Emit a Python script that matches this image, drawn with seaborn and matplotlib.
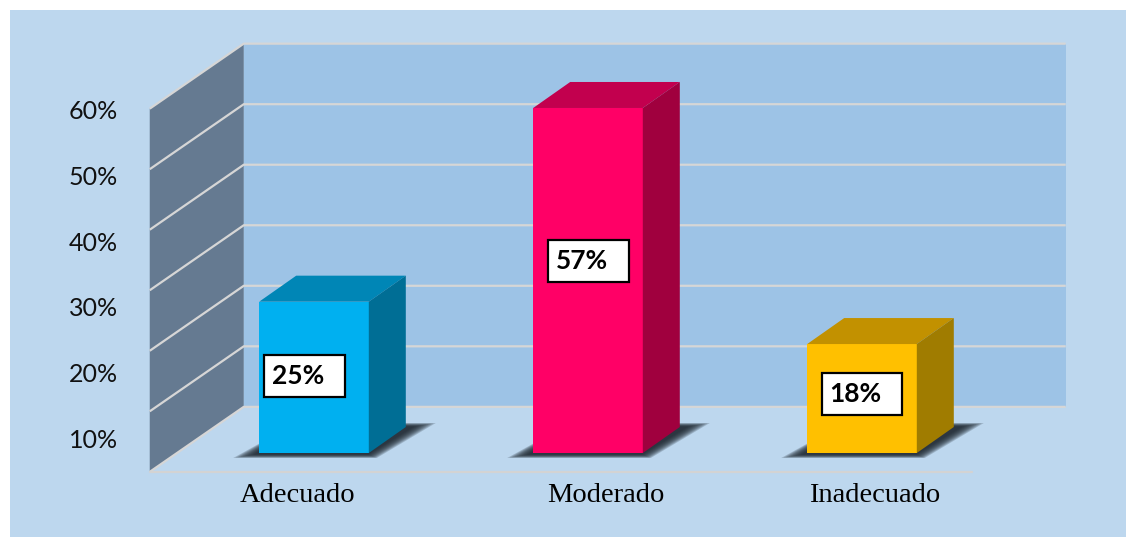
import pandas as pd
import seaborn as sns
import matplotlib.pyplot as plt
from matplotlib.patches import Polygon, Rectangle

# datos
categorias = ["Adecuado", "Moderado", "Inadecuado"]
porcentajes = [25, 57, 18]
etiquetas = ["25%", "57%", "18%"]
ticks_y = [10, 20, 30, 40, 50, 60]
ticks_txt = ["10%", "20%", "30%", "40%", "50%", "60%"]

# colores (frente, techo, lado)
frente = ["#00B0F0", "#FF0066", "#FFC000"]
techo = ["#0086B6", "#C2004E", "#C29100"]
lado = ["#006E95", "#A0003E", "#A07C00"]

# escala pixel -> datos
W, H = 1126, 537
PX_X = 274.0   # px por categoria
PX_Y = 6.053   # px por %
X0, Y0 = 314, 453  # pixel del punto (0, 0)


def dx(px):
    return px / PX_X


def dy(px):
    return px / PX_Y


# perspectiva del "3D"
DX, DY = dx(94), dy(65)
ZB = 0.29   # profundidad de la cara frontal de las barras


def P(x, y, z):
    return (x + (z - ZB) * DX, y + (z - ZB) * DY)


sns.set_style("white")
fig = plt.figure(figsize=(W / 100, H / 100), dpi=100)
fig.patch.set_facecolor("white")
fig.add_artist(Rectangle((10 / W, 0), 1 - 10 / W, 1 - 10 / H,
                         transform=fig.transFigure, facecolor="#BDD7EE",
                         edgecolor="none", zorder=-1))
ax = fig.add_axes([0, 0, 1, 1])

df = pd.DataFrame({"categoria": categorias, "porcentaje": porcentajes})
sns.barplot(data=df, x="categoria", y="porcentaje", hue="categoria",
            palette=frente, saturation=1, width=0.4, legend=False,
            linewidth=0, zorder=5, ax=ax)
barras = list(ax.patches)

# paredes
ax.add_patch(Polygon([P(-0.5, 0, 1), P(2.5, 0, 1), P(2.5, 60, 1), P(-0.5, 60, 1)],
                     closed=True, facecolor="#9DC3E6", edgecolor="none", zorder=1))
ax.add_patch(Polygon([P(-0.5, 0, 0), P(-0.5, 0, 1), P(-0.5, 60, 1), P(-0.5, 60, 0)],
                     closed=True, facecolor="#657A91", edgecolor="none", zorder=1))
for g in range(0, 61, 10):
    pts = [P(-0.5, g, 0), P(-0.5, g, 1), P(2.5, g, 1)]
    ax.plot([p[0] for p in pts], [p[1] for p in pts], color="#D6D6D6", lw=1.6,
            solid_capstyle="butt", zorder=2)
a, b = P(-0.5, 0, 0), P(2.5, 0, 0)
ax.plot([a[0], b[0]], [a[1], b[1]], color="#D3D3D3", lw=1.6, zorder=2)

# barras 3D: techo, lado y sombra
bdx, bdy = dx(37), dy(26)
for bar, ct, cl in zip(barras, techo, lado):
    x0, w, h = bar.get_x(), bar.get_width(), bar.get_height()
    x1 = x0 + w
    ax.add_patch(Polygon([(x0, h), (x1, h), (x1 + bdx, h + bdy), (x0 + bdx, h + bdy)],
                         closed=True, facecolor=ct, edgecolor="none", zorder=5))
    ax.add_patch(Polygon([(x1, 0), (x1, h), (x1 + bdx, h + bdy), (x1 + bdx, bdy)],
                         closed=True, facecolor=cl, edgecolor="none", zorder=5))
    for k in range(10):
        m = 2.4 * k
        ax.add_patch(Polygon([(x0 - dx(26 - m), -dy(5 - k * 0.4)),
                              (x1 + dx(8 - m * 0.4), -dy(5 - k * 0.4)),
                              (x1 + bdx + dx(30 - m), bdy + dy(4 - k * 0.4)),
                              (x0 + bdx, bdy + dy(4 - k * 0.4))],
                             closed=True, facecolor="#1C252E", edgecolor="none",
                             alpha=0.2, zorder=3))

# etiquetas de valor
desp_x = [-0.035, 0.0, 0.0]
desp_y = [1, 19, 5]   # px
for i, (v, t) in enumerate(zip(porcentajes, etiquetas)):
    cx, cy = i + desp_x[i], v / 2 + dy(desp_y[i])
    bw, bh = dx(81), dy(42)
    ax.add_patch(Rectangle((cx - bw / 2, cy - bh / 2), bw, bh, facecolor="white",
                           edgecolor="black", lw=1.6, zorder=8))
    ax.text(cx - bw / 2 + dx(8), cy, t, ha="left", va="center", fontsize=19,
            fontweight="bold", family="Lato", color="black", zorder=9)

# eje y (texto)
for v, t in zip(ticks_y, ticks_txt):
    ax.text(dx(118 - X0), dy(453 - 440) + (v - 10) / 10 * dy(65.6), t,
            ha="right", va="center", fontsize=18, family="Lato", color="#111111")

# categorias
desp_cat = [-0.06, 0.066, 0.047]
for i, c in enumerate(categorias):
    ax.text(i + desp_cat[i], dy(-43), c, ha="center", va="center", fontsize=20.5,
            family="Liberation Serif", color="black")

ax.set_xlim(-X0 / PX_X, (W - X0) / PX_X)
ax.set_ylim(-(H - Y0) / PX_Y, Y0 / PX_Y)
ax.axis("off")

fig.savefig("out.png", dpi=100)
